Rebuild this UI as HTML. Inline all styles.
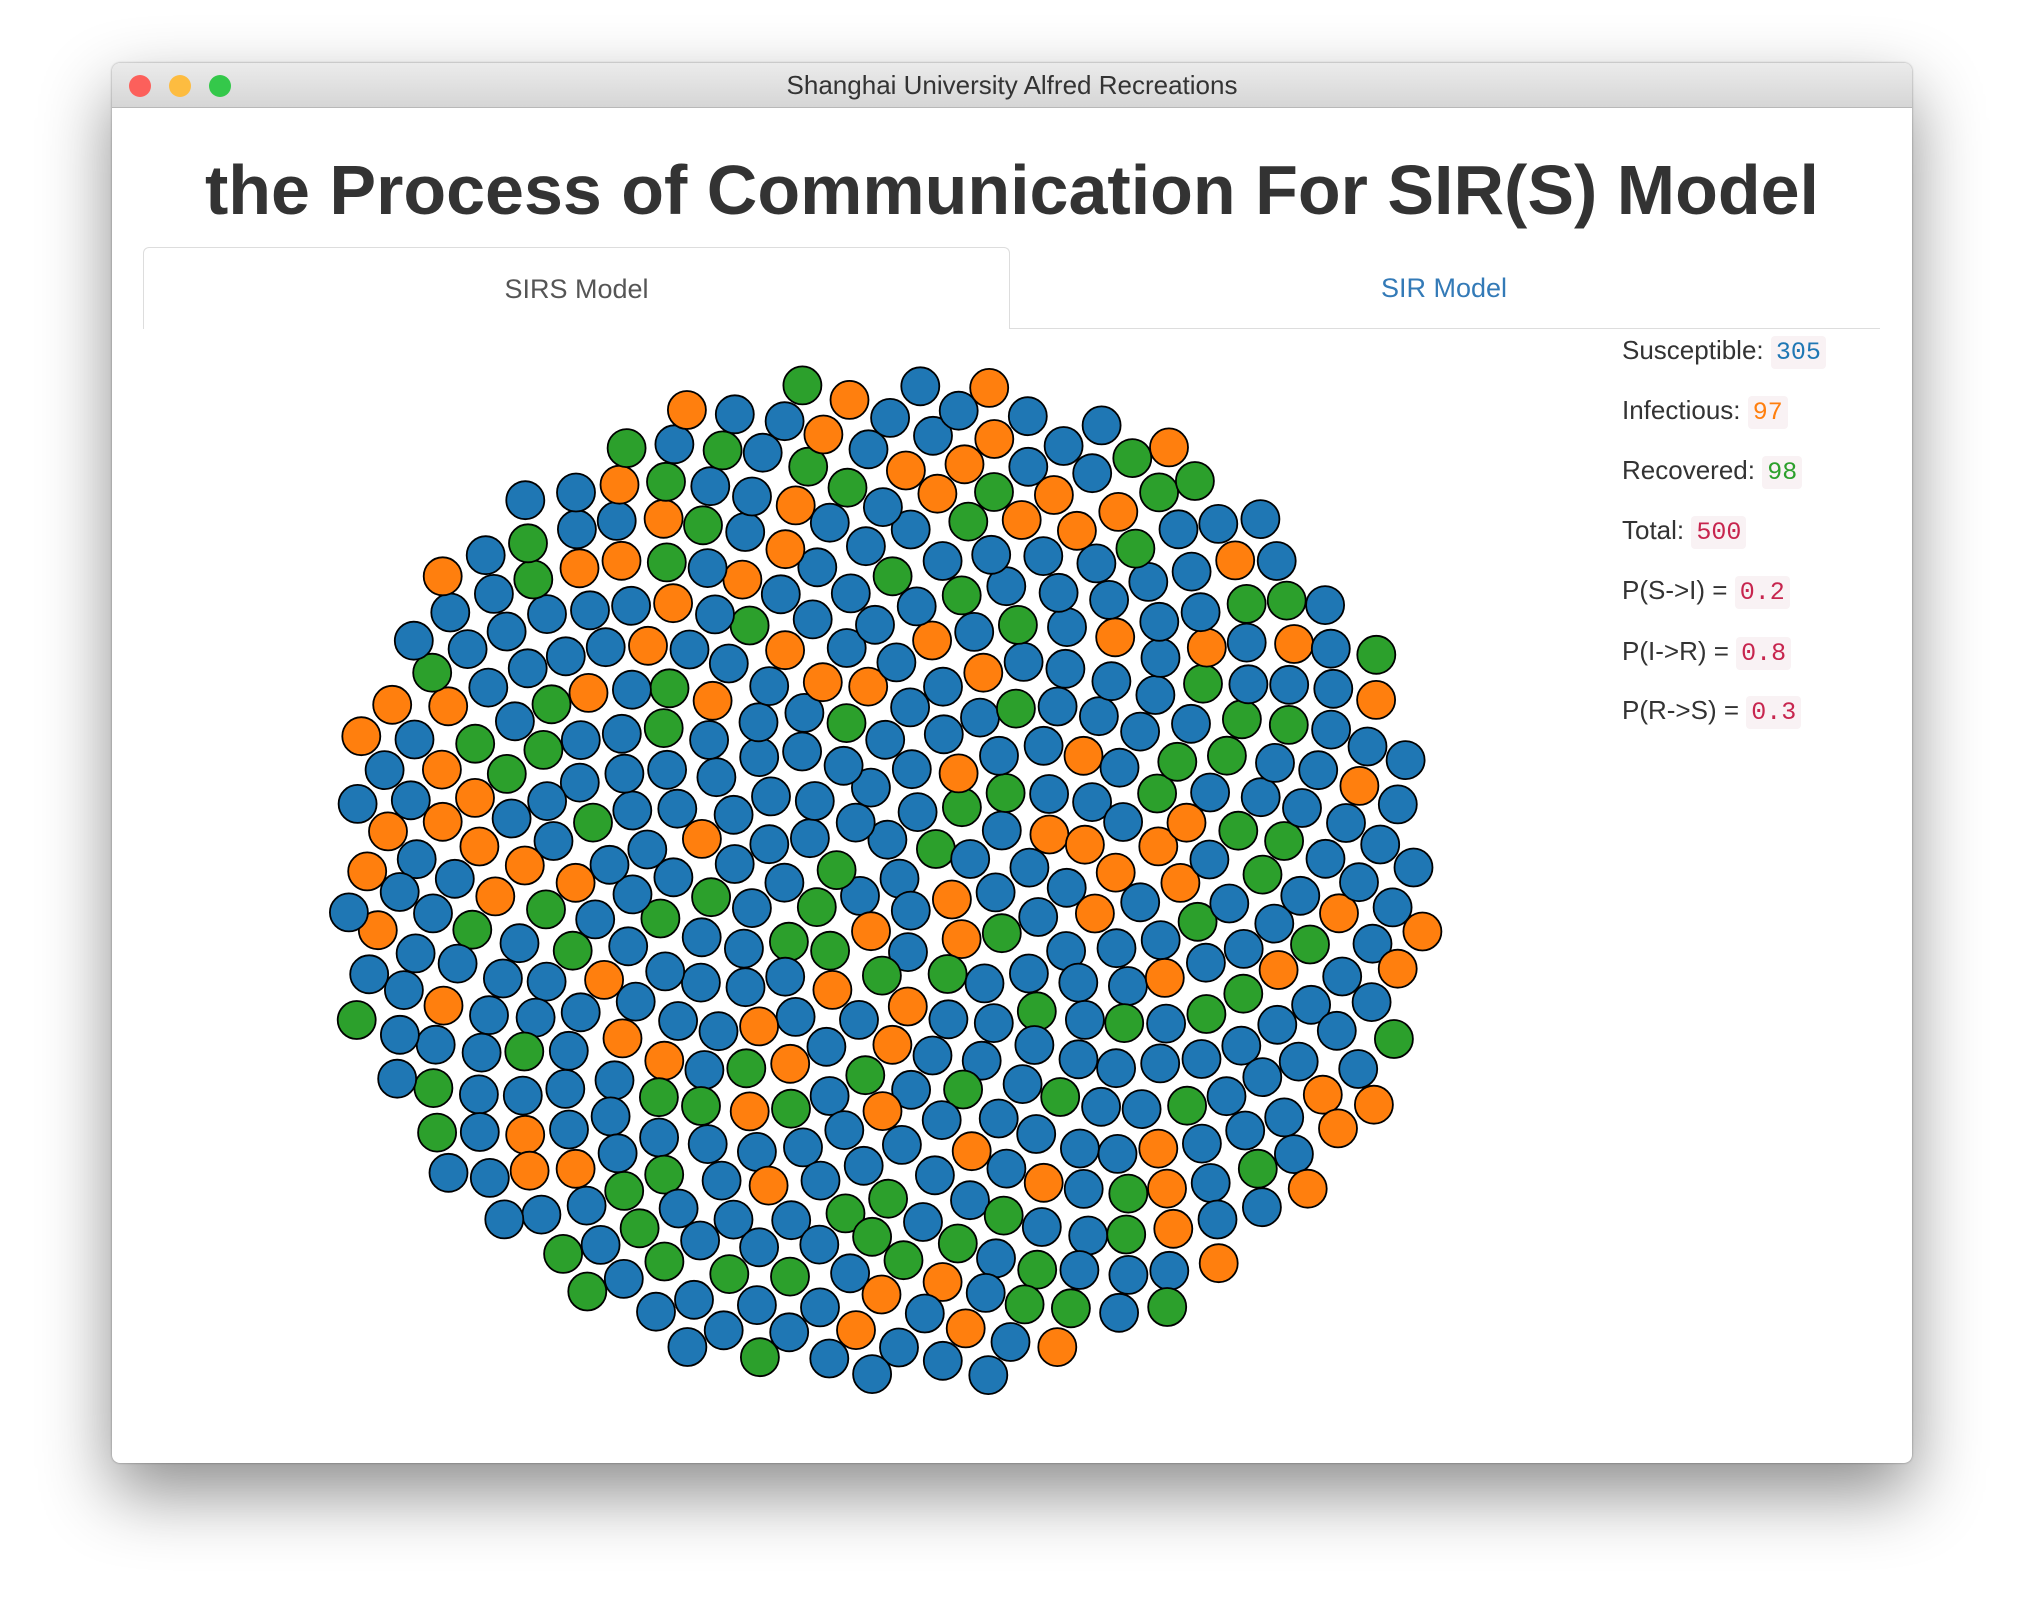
<!DOCTYPE html>
<html><head><meta charset="utf-8"><style>
html,body{margin:0;padding:0;width:2024px;height:1624px;background:#fff;overflow:hidden;font-family:"Liberation Sans",sans-serif}
#win{position:absolute;left:112px;top:63px;width:1800px;height:1400px;background:#fff;border-radius:8px;box-shadow:0 30px 70px rgba(0,0,0,0.45),0 0 2px rgba(0,0,0,0.4);overflow:hidden}
#bar{position:absolute;left:0;top:0;width:100%;height:44px;background:linear-gradient(#ebebeb,#d6d6d6);border-bottom:1px solid #b8b8b8;text-align:center;line-height:44px;font-size:26px;color:#333}
.dot{position:absolute;top:12px;width:22px;height:22px;border-radius:50%}
#title{position:absolute;left:0;width:100%;top:92px;text-align:center;font-size:70px;font-weight:bold;color:#333;line-height:1}
#tabl{position:absolute;left:31px;top:184px;width:867px;height:82px;border:1px solid #ddd;border-bottom:none;border-radius:6px 6px 0 0;box-sizing:border-box;text-align:center;line-height:82px;font-size:27px;color:#555;background:#fff}
#tabr{position:absolute;left:898px;top:184px;width:868px;height:82px;text-align:center;line-height:82px;font-size:27px;color:#337ab7}
#line{position:absolute;left:898px;top:265px;width:870px;height:1px;background:#ddd}
.st{position:absolute;left:1510px;font-size:26px;color:#333}
code{font-family:"Liberation Mono",monospace;background:#f9f2f4;padding:2px 5px;border-radius:4px;font-size:25px}
</style></head><body>
<div id="win">
<div id="bar">Shanghai University Alfred Recreations
<div class="dot" style="left:17px;background:#fc605b"></div>
<div class="dot" style="left:57px;background:#fdbc40"></div>
<div class="dot" style="left:97px;background:#34c84a"></div></div>
<div id="title">the Process of Communication For SIR(S) Model</div>
<div id="tabl">SIRS Model</div><div id="tabr">SIR Model</div><div id="line"></div>
<div class="st" style="top:272px">Susceptible: <code style="color:#1f77b4">305</code></div>
<div class="st" style="top:332px">Infectious: <code style="color:#ff7f0e">97</code></div>
<div class="st" style="top:392px">Recovered: <code style="color:#2ca02c">98</code></div>
<div class="st" style="top:452px">Total: <code style="color:#c7254e">500</code></div>
<div class="st" style="top:512px">P(S-&gt;I) = <code style="color:#c7254e">0.2</code></div>
<div class="st" style="top:573px">P(I-&gt;R) = <code style="color:#c7254e">0.8</code></div>
<div class="st" style="top:632px">P(R-&gt;S) = <code style="color:#c7254e">0.3</code></div>
<svg id="sv" width="1800" height="1400" style="position:absolute;left:0;top:0"></svg>
</div>
<script>
var s=12345;function rnd(){s=(s*1103515245+12345)%2147483648;return s/2147483648;}
var cols=[];for(var i=0;i<305;i++)cols.push('#1f77b4');for(i=0;i<97;i++)cols.push('#ff7f0e');for(i=0;i<98;i++)cols.push('#2ca02c');
for(i=cols.length-1;i>0;i--){var j=Math.floor(rnd()*(i+1));var t=cols[i];cols[i]=cols[j];cols[j]=t;}
var h='',cx=773,cy=815,ga=Math.PI*(3-Math.sqrt(5));
for(i=0;i<500;i++){var r=23.6*Math.sqrt(i+0.5),a=i*ga;
var x=cx+r*Math.cos(a)*1.04+(rnd()-0.5)*6,y=cy+r*Math.sin(a)*0.96+(rnd()-0.5)*6;
h+='<circle cx="'+x.toFixed(1)+'" cy="'+y.toFixed(1)+'" r="19" fill="'+cols[i]+'" stroke="#000" stroke-width="1.8"/>';}
document.getElementById('sv').innerHTML=h;
</script>
</body></html>
